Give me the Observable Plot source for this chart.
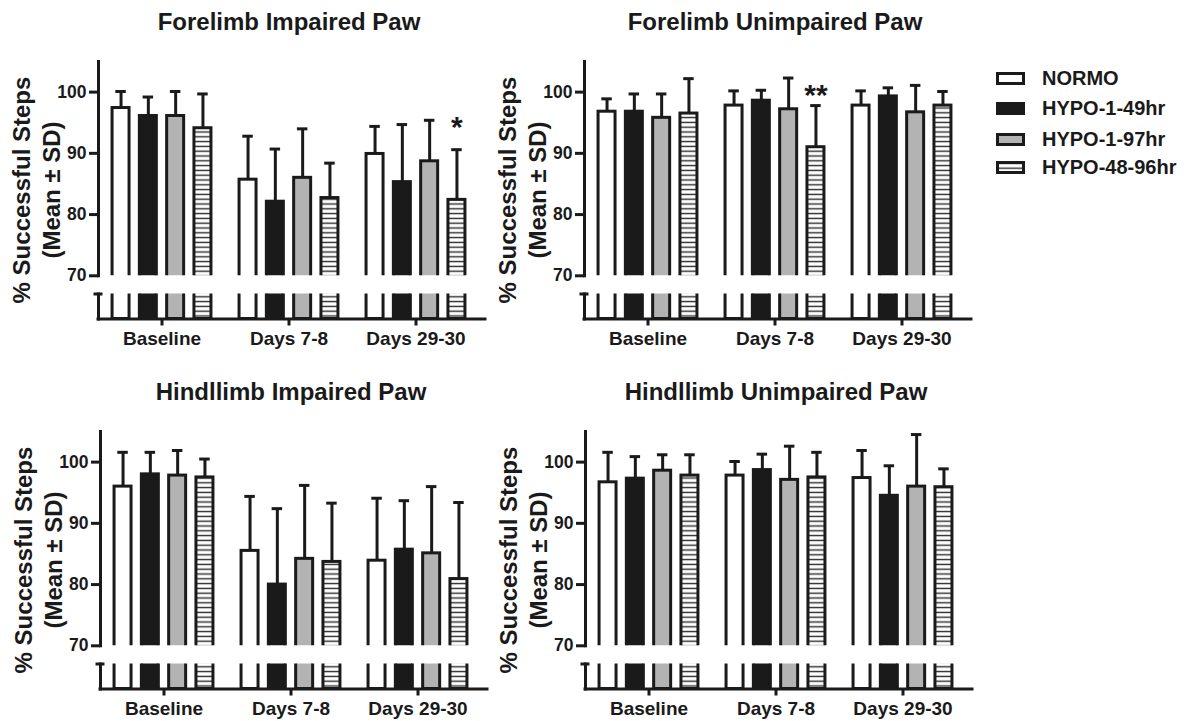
<!DOCTYPE html>
<html>
<head>
<meta charset="utf-8">
<script src="https://cdn.jsdelivr.net/npm/d3@7"></script>
<script src="https://cdn.jsdelivr.net/npm/@observablehq/plot@0.6"></script>
<style>
  body { margin: 0; background: #fff; }
  #chart { position: relative; width: 1188px; height: 721px; overflow: hidden;
           font-family: "Liberation Sans", Arial, sans-serif; font-weight: bold; color: #1a1a1a; }
  .abs { position: absolute; }
  .ptitle { font-size: 24px; line-height: 24px; text-align: center; width: 400px; white-space: nowrap; }
  .ytitle { font-size: 24px; line-height: 30px; text-align: center; width: 320px; height: 60px;
            transform: rotate(-90deg); white-space: nowrap; }
  .leg { font-size: 20px; height: 30px; display: flex; align-items: center; white-space: nowrap; }
  .leg svg { margin-right: 17px; }
  g[aria-label*="y-axis"] text { font-size: 17.5px !important; }
  g[aria-label*="x-axis"] text { font-size: 19px !important; }
</style>
</head>
<body>
<svg width="0" height="0" style="position:absolute">
  <defs>
    <pattern id="hstripe" patternUnits="userSpaceOnUse" width="8" height="4.8">
      <rect width="8" height="4.8" fill="#ffffff"></rect>
      <rect y="1.7" width="8" height="1.4" fill="#2a2a2a"></rect>
    </pattern>
  </defs>
</svg>
<div id="chart"></div>
<script>
// ---------- data ----------
const groups = ["Baseline", "Days 7-8", "Days 29-30"];
const series = ["NORMO", "HYPO-1-49hr", "HYPO-1-97hr", "HYPO-48-96hr"];
const panelTitles = ["Forelimb Impaired Paw", "Forelimb Unimpaired Paw", "Hindllimb Impaired Paw", "Hindllimb Unimpaired Paw"];
const yTitle = ["% Successful Steps", "(Mean \u00b1 SD)"];
const yTicks = [70, 80, 90, 100];

// means: rows = groups, columns = series
const foreImpairedMean   = [[97.4, 96.1, 96.1, 94.1], [85.7, 82.1, 86.0, 82.7], [89.9, 85.3, 88.7, 82.4]];
const foreImpairedSD     = [[2.7, 3.1, 4.0, 5.6], [7.1, 8.6, 8.0, 5.7], [4.5, 9.4, 6.7, 8.2]];
const foreUnimpairedMean = [[96.8, 96.8, 95.8, 96.5], [97.8, 98.6, 97.2, 91.0], [97.8, 99.3, 96.7, 97.8]];
const foreUnimpairedSD   = [[2.1, 2.9, 3.9, 5.7], [2.4, 1.7, 5.1, 6.8], [2.4, 1.4, 4.4, 2.3]];
const hindImpairedMean   = [[96.0, 98.0, 97.8, 97.5], [85.5, 80.0, 84.2, 83.7], [83.9, 85.7, 85.1, 80.9]];
const hindImpairedSD     = [[5.6, 3.6, 4.1, 3.0], [8.9, 12.4, 12.0, 9.6], [10.2, 8.0, 10.9, 12.5]];
const hindUnimpairedMean = [[96.7, 97.3, 98.6, 97.8], [97.8, 98.7, 97.1, 97.5], [97.4, 94.5, 96.0, 95.9]];
const hindUnimpairedSD   = [[4.9, 3.6, 2.6, 3.4], [2.3, 2.6, 5.5, 4.1], [4.5, 4.9, 8.5, 3.0]];

// significance markers: [group, series, label, y-value]
const foreImpairedStars   = [["Days 29-30", "HYPO-48-96hr", "*", 95.6]];
const foreUnimpairedStars = [["Days 7-8", "HYPO-48-96hr", "**", 100.7]];
const hindImpairedStars   = [];
const hindUnimpairedStars = [];

// ---------- styles ----------
const INK = "#1a1a1a";
const seriesFill = ["#ffffff", "#1a1a1a", "#b3b3b3", "url(#hstripe)"];
const panelOrigins = [[0, 0], [486, 0], [2, 370], [487, 370]];
const PANEL_W = 500, FRAME_L = 98, FRAME_R = 485;
const UP_H = 280, UP_TOP = 61, UP_BOTTOM = 275.3;
const LO_TOP = 280, LO_H = 80, LO_FT = 293.5, LO_FB = 318.5;
const PITCH = 27.3, BAR_W = 17.5, CAP_W = 11, SW = 3;
const padOuter = 0.0176;
const step = (FRAME_R - FRAME_L) / (groups.length + 2 * padOuter);
const barInset = (step - BAR_W) / 2;
const capInset = (step - CAP_W) / 2;
const offset = i => (i - (series.length - 1) / 2) * PITCH;

const panels = [
  {mean: foreImpairedMean, sd: foreImpairedSD, stars: foreImpairedStars},
  {mean: foreUnimpairedMean, sd: foreUnimpairedSD, stars: foreUnimpairedStars},
  {mean: hindImpairedMean, sd: hindImpairedSD, stars: hindImpairedStars},
  {mean: hindUnimpairedMean, sd: hindUnimpairedSD, stars: hindUnimpairedStars}
];

const baseStyle = {fontFamily: '"Liberation Sans", Arial, sans-serif', fontWeight: "bold",
                   fontSize: "17px", color: INK, background: "transparent", overflow: "visible"};
const xScale = {domain: groups, paddingInner: 0, paddingOuter: padOuter, align: 0, label: null};

function barMarks(rows, upper) {
  const marks = [];
  series.forEach((s, i) => {
    const r = rows.filter(d => d.series === s);
    marks.push(Plot.barY(r, {x: "group", y1: 0, y2: "mean", dx: offset(i),
      insetLeft: barInset, insetRight: barInset, fill: seriesFill[i], stroke: INK, strokeWidth: SW, clip: true}));
    if (upper) {
      marks.push(Plot.ruleX(r, {x: "group", y1: "mean", y2: "top", dx: offset(i), stroke: INK, strokeWidth: SW}));
      marks.push(Plot.tickY(r, {x: "group", y: "top", dx: offset(i), insetLeft: capInset, insetRight: capInset,
        stroke: INK, strokeWidth: SW}));
    }
  });
  return marks;
}

function setFont(svg, size) {
  svg.querySelectorAll('g[aria-label*="axis"] text, g[aria-label*="axis"]').forEach(el => {
    el.style.fontSize = size + "px";
    el.setAttribute("font-size", size);
  });
}

const chart = document.getElementById("chart");

panels.forEach((p, k) => {
  const rows = [];
  groups.forEach((g, gi) => series.forEach((s, si) => {
    rows.push({group: g, series: s, mean: p.mean[gi][si], top: p.mean[gi][si] + p.sd[gi][si]});
  }));
  const stars = p.stars.map(([group, s, label, y]) => ({group, series: s, label, y}));
  const [ox, oy] = panelOrigins[k];

  const panel = document.createElement("div");
  panel.className = "abs";
  panel.style.left = ox + "px";
  panel.style.top = oy + "px";
  panel.style.width = PANEL_W + "px";
  panel.style.height = "360px";
  chart.appendChild(panel);

  // title
  const t = document.createElement("div");
  t.className = "abs ptitle";
  t.textContent = panelTitles[k];
  t.style.left = (289 - 200) + "px";
  t.style.top = "10px";
  panel.appendChild(t);

  // y title
  const yt = document.createElement("div");
  yt.className = "abs ytitle";
  yt.innerHTML = yTitle[0] + "<br>" + yTitle[1];
  yt.style.left = (37 - 160) + "px";
  yt.style.top = (190 - 30) + "px";
  panel.appendChild(yt);

  // upper segment (70-105)
  const upper = Plot.plot({
    width: PANEL_W, height: UP_H,
    marginLeft: FRAME_L, marginRight: PANEL_W - FRAME_R, marginTop: UP_TOP, marginBottom: UP_H - UP_BOTTOM,
    x: {...xScale, axis: null},
    y: {domain: [70, 105], label: null},
    style: baseStyle,
    marks: [
      ...barMarks(rows, true),
      Plot.text(stars, {x: "group", y: "y", text: "label", dx: offset(3), dy: 8, fontSize: 30, fill: INK}),
      Plot.axisY({ticks: yTicks, tickSize: 9, tickPadding: 3, strokeWidth: SW, fontSize: 17.5, label: null}),
      Plot.frame({anchor: "left", stroke: INK, strokeWidth: SW})
    ]
  });
  setFont(upper, 17.5);
  upper.style.position = "absolute";
  upper.style.left = "0px";
  upper.style.top = "0px";
  panel.appendChild(upper);

  // lower segment (broken axis stub)
  const lower = Plot.plot({
    width: PANEL_W, height: LO_H,
    marginLeft: FRAME_L, marginRight: PANEL_W - FRAME_R, marginTop: LO_FT - LO_TOP, marginBottom: LO_TOP + LO_H - LO_FB,
    x: xScale,
    y: {domain: [0, 10], label: null},
    style: baseStyle,
    marks: [
      ...barMarks(rows, false),
      Plot.ruleY([0], {stroke: INK, strokeWidth: SW, strokeLinecap: "square"}),
      Plot.frame({anchor: "left", stroke: INK, strokeWidth: SW}),
      Plot.axisY({ticks: [10], tickSize: 9, dx: 4.5, tickFormat: () => "", strokeWidth: SW, label: null}),
      Plot.axisX({tickSize: 7, tickPadding: 5, strokeWidth: SW, fontSize: 19, label: null})
    ]
  });
  setFont(lower, 19);
  lower.style.position = "absolute";
  lower.style.left = "0px";
  lower.style.top = LO_TOP + "px";
  panel.appendChild(lower);
});

// legend
const legendRowY = [78.3, 108.3, 139, 167.3];
series.forEach((s, i) => {
  const row = document.createElement("div");
  row.className = "abs leg";
  row.style.left = "996px";
  row.style.top = (legendRowY[i] - 15) + "px";
  row.innerHTML = `<svg width="29" height="13"><rect x="1.5" y="1.5" width="26" height="10" fill="${seriesFill[i]}" stroke="${INK}" stroke-width="3"></rect></svg><span>${s}</span>`;
  chart.appendChild(row);
});
</script>
</body>
</html>
